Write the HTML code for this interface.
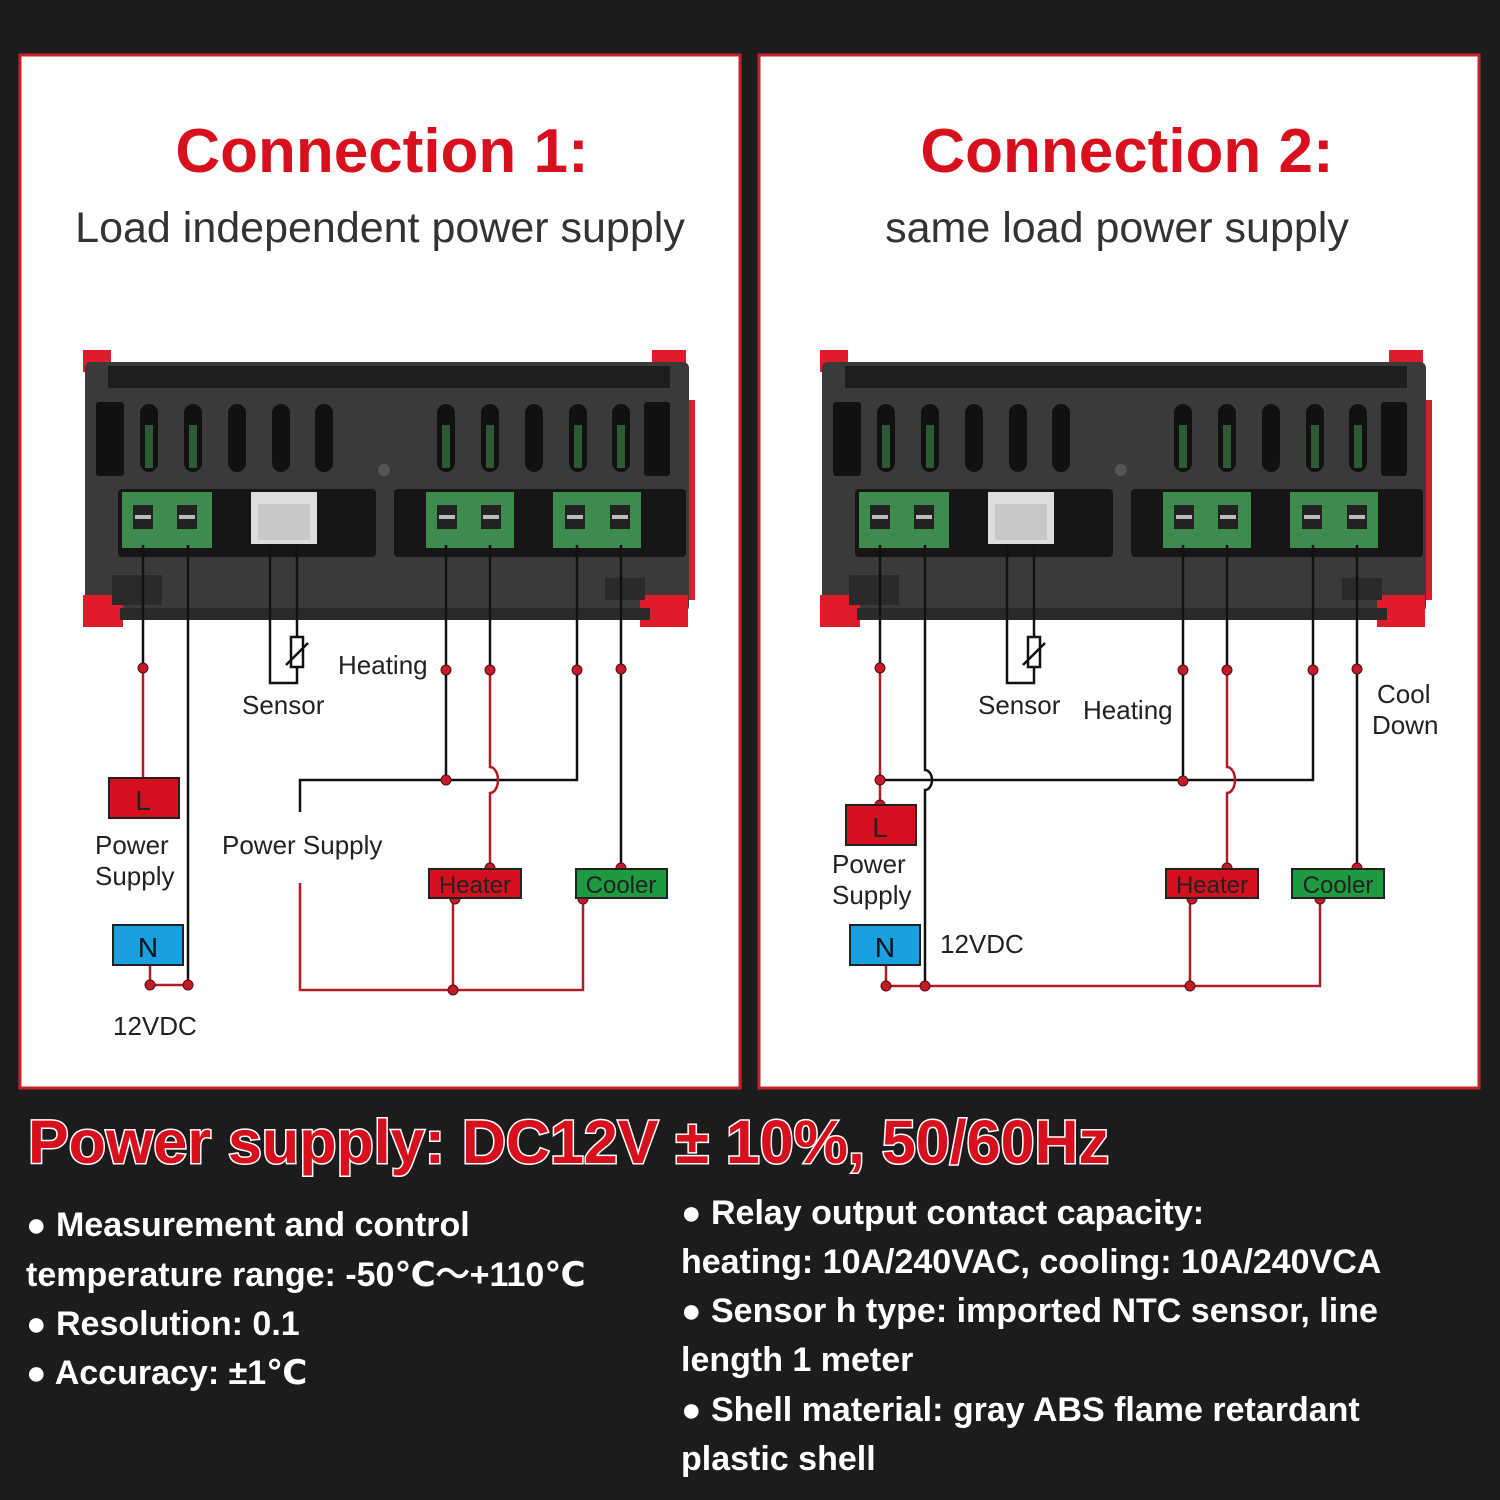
<!DOCTYPE html>
<html><head><meta charset="utf-8"><style>
html,body{margin:0;padding:0;background:#1c1c1c;}
svg{display:block;}
.t{font-family:"Liberation Sans","DejaVu Sans",sans-serif;}
</style></head><body>
<svg width="1500" height="1500" viewBox="0 0 1500 1500" xmlns="http://www.w3.org/2000/svg">
<defs>
<g id="dev">
  <rect x="83" y="350" width="28" height="22" fill="#e01b2a"/>
  <rect x="652" y="350" width="34" height="22" fill="#e01b2a"/>
  <rect x="683" y="400" width="12" height="200" fill="#d8202c"/>
  <rect x="85" y="362" width="604" height="250" rx="6" fill="#3a3a3a"/>
  <rect x="108" y="366" width="562" height="22" fill="#1e1e1e"/>
  <rect x="83" y="595" width="40" height="32" fill="#e01b2a"/>
  <rect x="640" y="595" width="48" height="32" fill="#e01b2a"/>
  <rect x="120" y="608" width="530" height="12" fill="#2a2a2a"/>
  <rect x="96" y="402" width="28" height="74" rx="3" fill="#111"/>
  <rect x="644" y="402" width="26" height="74" rx="3" fill="#111"/>
  <g fill="#111">
    <rect x="140" y="404" width="18" height="68" rx="9"/><rect x="184" y="404" width="18" height="68" rx="9"/>
    <rect x="228" y="404" width="18" height="68" rx="9"/><rect x="272" y="404" width="18" height="68" rx="9"/>
    <rect x="315" y="404" width="18" height="68" rx="9"/>
    <rect x="437" y="404" width="18" height="68" rx="9"/><rect x="481" y="404" width="18" height="68" rx="9"/>
    <rect x="525" y="404" width="18" height="68" rx="9"/><rect x="569" y="404" width="18" height="68" rx="9"/>
    <rect x="612" y="404" width="18" height="68" rx="9"/>
  </g>
  <g fill="#2f5a36">
    <rect x="145" y="425" width="8" height="43"/><rect x="189" y="425" width="8" height="43"/>
    <rect x="442" y="425" width="8" height="43"/><rect x="486" y="425" width="8" height="43"/>
    <rect x="574" y="425" width="8" height="43"/><rect x="617" y="425" width="8" height="43"/>
  </g>
  <circle cx="384" cy="470" r="6" fill="#555"/>
  <rect x="118" y="489" width="258" height="68" rx="4" fill="#161616"/>
  <rect x="394" y="489" width="292" height="68" rx="4" fill="#161616"/>
  <rect x="122" y="492" width="90" height="56" fill="#3d8b4d"/>
  <rect x="426" y="492" width="88" height="56" fill="#3d8b4d"/>
  <rect x="553" y="492" width="88" height="56" fill="#3d8b4d"/>
  <rect x="251" y="492" width="66" height="52" fill="#ddd"/>
  <rect x="258" y="504" width="52" height="36" fill="#c8c8c8"/>
  <g fill="#222">
    <rect x="133" y="505" width="20" height="24"/><rect x="177" y="505" width="20" height="24"/>
    <rect x="437" y="505" width="20" height="24"/><rect x="481" y="505" width="20" height="24"/>
    <rect x="565" y="505" width="20" height="24"/><rect x="610" y="505" width="20" height="24"/>
  </g>
  <g fill="#bbb">
    <rect x="135" y="515" width="16" height="4"/><rect x="179" y="515" width="16" height="4"/>
    <rect x="439" y="515" width="16" height="4"/><rect x="483" y="515" width="16" height="4"/>
    <rect x="567" y="515" width="16" height="4"/><rect x="612" y="515" width="16" height="4"/>
  </g>
  <rect x="112" y="575" width="50" height="30" fill="#2a2a2a"/>
  <rect x="605" y="578" width="40" height="22" fill="#2a2a2a"/>
</g>
</defs>

<rect width="1500" height="1500" fill="#1c1c1c"/>
<rect x="20" y="55" width="720" height="1033" fill="#fff" stroke="#c8202a" stroke-width="3"/>
<rect x="759" y="55" width="720" height="1033" fill="#fff" stroke="#c8202a" stroke-width="3"/>

<text class="t" x="382" y="172" font-size="62" font-weight="bold" fill="#d8101e" text-anchor="middle">Connection 1:</text>
<text class="t" x="380" y="242" font-size="43" fill="#333" text-anchor="middle">Load independent power supply</text>
<text class="t" x="1127" y="172" font-size="62" font-weight="bold" fill="#d8101e" text-anchor="middle">Connection 2:</text>
<text class="t" x="1117" y="242" font-size="43" fill="#333" text-anchor="middle">same load power supply</text>

<use href="#dev"/>
<use href="#dev" transform="translate(737,0)"/>

<!-- Panel 1 wiring -->
<g fill="none" stroke-width="2.5">
  <g stroke="#111">
    <path d="M143 545V668M188 545V985M270 545V683H297V667M297 545V637"/>
    <path d="M446 545V780M490 545V668M577 545V780H300V812M621 545V868"/>
    <rect x="291" y="637" width="12" height="30"/>
    <path d="M286 665L308 643"/>
  </g>
  <g stroke="#b01c28">
    <path d="M143 668V778M490 668V767a8 13 0 0 1 0 26V868"/>
    <path d="M150 965V985H188M300 883V990H583V898M453 898V990"/>
  </g>
</g>
<g fill="#c01c2a" stroke="#5a0a10" stroke-width="1">
  <circle cx="143" cy="668" r="5"/><circle cx="446" cy="670" r="5"/><circle cx="490" cy="670" r="5"/>
  <circle cx="577" cy="670" r="5"/><circle cx="621" cy="669" r="5"/><circle cx="446" cy="780" r="5"/>
  <circle cx="150" cy="985" r="5"/><circle cx="188" cy="985" r="5"/><circle cx="453" cy="990" r="5"/>
  <circle cx="490" cy="868" r="5"/><circle cx="621" cy="868" r="5"/><circle cx="455" cy="899" r="5"/><circle cx="583" cy="899" r="5"/>
</g>
<rect x="109" y="778" width="70" height="40" fill="#d4101e" stroke="#222" stroke-width="2"/>
<text class="t" x="143" y="810" font-size="28" fill="#222" text-anchor="middle">L</text>
<rect x="113" y="925" width="70" height="40" fill="#1aa0e0" stroke="#222" stroke-width="2"/>
<text class="t" x="148" y="957" font-size="28" fill="#111" text-anchor="middle">N</text>
<rect x="429" y="869" width="92" height="29" fill="#d4101e" stroke="#222" stroke-width="2"/>
<text class="t" x="475" y="893" font-size="24" fill="#222" text-anchor="middle">Heater</text>
<rect x="576" y="869" width="91" height="29" fill="#1e9a40" stroke="#222" stroke-width="2"/>
<text class="t" x="621" y="893" font-size="24" fill="#222" text-anchor="middle">Cooler</text>
<g class="t" font-size="26" fill="#222">
  <text x="338" y="674">Heating</text>
  <text x="242" y="714">Sensor</text>
  <text x="95" y="854">Power</text>
  <text x="95" y="885">Supply</text>
  <text x="222" y="854">Power Supply</text>
  <text x="113" y="1035">12VDC</text>
</g>

<!-- Panel 2 wiring -->
<g fill="none" stroke-width="2.5">
  <g stroke="#111">
    <path d="M880 545V668M925 545V770a7 10 0 0 1 0 20V986M1007 545V683H1034V667M1034 545V637"/>
    <path d="M1183 545V780M1227 545V668M1313 545V780H880M1357 545V868"/>
    <rect x="1028" y="637" width="12" height="30"/>
    <path d="M1023 665L1045 643"/>
  </g>
  <g stroke="#b01c28">
    <path d="M880 668V805M1227 668V767a8 13 0 0 1 0 26V868"/>
    <path d="M886 965V986H1320V898M1190 898V986"/>
  </g>
</g>
<g fill="#c01c2a" stroke="#5a0a10" stroke-width="1">
  <circle cx="880" cy="668" r="5"/><circle cx="1183" cy="670" r="5"/><circle cx="1227" cy="670" r="5"/>
  <circle cx="1313" cy="670" r="5"/><circle cx="1357" cy="669" r="5"/><circle cx="1183" cy="781" r="5"/>
  <circle cx="880" cy="780" r="5"/><circle cx="880" cy="805" r="5"/>
  <circle cx="886" cy="986" r="5"/><circle cx="925" cy="986" r="5"/><circle cx="1190" cy="986" r="5"/>
  <circle cx="1227" cy="868" r="5"/><circle cx="1357" cy="868" r="5"/><circle cx="1192" cy="899" r="5"/><circle cx="1320" cy="899" r="5"/>
</g>
<rect x="846" y="805" width="70" height="40" fill="#d4101e" stroke="#222" stroke-width="2"/>
<text class="t" x="880" y="837" font-size="28" fill="#222" text-anchor="middle">L</text>
<rect x="850" y="925" width="70" height="40" fill="#1aa0e0" stroke="#222" stroke-width="2"/>
<text class="t" x="885" y="957" font-size="28" fill="#111" text-anchor="middle">N</text>
<rect x="1166" y="869" width="92" height="29" fill="#d4101e" stroke="#222" stroke-width="2"/>
<text class="t" x="1212" y="893" font-size="24" fill="#222" text-anchor="middle">Heater</text>
<rect x="1292" y="869" width="92" height="29" fill="#1e9a40" stroke="#222" stroke-width="2"/>
<text class="t" x="1338" y="893" font-size="24" fill="#222" text-anchor="middle">Cooler</text>
<g class="t" font-size="26" fill="#222">
  <text x="978" y="714">Sensor</text>
  <text x="1083" y="719">Heating</text>
  <text x="1377" y="703">Cool</text>
  <text x="1372" y="734">Down</text>
  <text x="832" y="873">Power</text>
  <text x="832" y="904">Supply</text>
  <text x="940" y="953">12VDC</text>
</g>

<!-- Bottom text -->
<text class="t" x="28" y="1163" font-size="61" font-weight="bold" fill="#d8101e" stroke="#fff" stroke-width="3" paint-order="stroke">Power supply: DC12V ± 10%, 50/60Hz</text>
<g class="t" font-size="34" font-weight="bold" fill="#fff">
  <text x="26" y="1236">● Measurement and control</text>
  <text x="26" y="1286">temperature range: -50℃～+110℃</text>
  <text x="26" y="1335">● Resolution: 0.1</text>
  <text x="26" y="1384">● Accuracy: ±1℃</text>
  <text x="681" y="1224">● Relay output contact capacity:</text>
  <text x="681" y="1273">heating: 10A/240VAC, cooling: 10A/240VCA</text>
  <text x="681" y="1322">● Sensor h type: imported NTC sensor, line</text>
  <text x="681" y="1371">length 1 meter</text>
  <text x="681" y="1421">● Shell material: gray ABS flame retardant</text>
  <text x="681" y="1470">plastic shell</text>
</g>
</svg>
</body></html>
